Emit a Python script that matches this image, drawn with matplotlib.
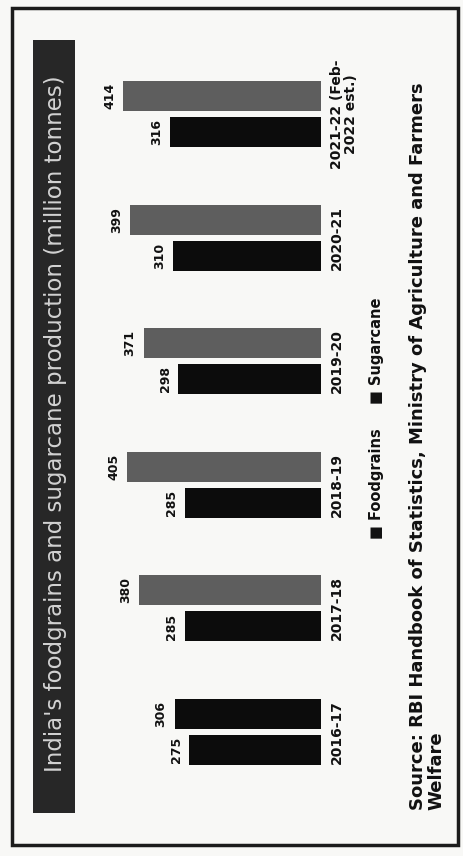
import matplotlib
matplotlib.use("Agg")
import matplotlib.pyplot as plt
import matplotlib.transforms as mtransforms
from matplotlib.patches import Rectangle

# ---- data ----
years = ["2016-17", "2017-18", "2018-19", "2019-20", "2020-21", "2021-22 (Feb-\n2022 est.)"]
foodgrains = [275, 285, 285, 298, 310, 316]
sugarcane = [306, 380, 405, 371, 399, 414]
series_names = ["Foodgrains", "Sugarcane"]
title = "India's foodgrains and sugarcane production (million tonnes)"
source = "Source: RBI Handbook of Statistics, Ministry of Agriculture and Farmers\nWelfare"

# ---- style ----
W, H = 463, 856
bg = "#f8f8f6"
food_color = "#0c0c0c"
sugar_color = "#5e5e5e"
sugar_colors = [food_color] + [sugar_color] * (len(sugarcane) - 1)

fig = plt.figure(figsize=(W / 100, H / 100), dpi=100, facecolor=bg)

def fx(px):
    return px / W

def fy(py):
    return 1 - py / H

# page frame
fig.add_artist(Rectangle((fx(12), fy(845)), fx(446), (845 - 8) / H,
                         transform=fig.transFigure, fill=False,
                         edgecolor="#1c1c1c", linewidth=2.5))

# title band (rotated chart title)
fig.add_artist(Rectangle((fx(33), fy(813)), fx(42), (813 - 40) / H,
                         transform=fig.transFigure, facecolor="#272727",
                         edgecolor="none"))
fig.text(fx(56), fy(424), title, rotation=90, ha="center", va="center",
         color="#d2d2d2", fontsize=16.5)

# bar axes (chart rotated 90 degrees: values run leftwards)
ax = fig.add_axes([fx(100), fy(800), fx(221), (800 - 60) / H])
ax.set_facecolor("none")
n = len(years)
pos = list(range(n))
off = 0.146
h = 0.243
fb = ax.barh([p - off for p in pos], foodgrains, height=h, color=food_color)
sb = ax.barh([p + off for p in pos], sugarcane, height=h, color=sugar_colors)
ax.set_xlim(462, 0)
ax.set_ylim(-0.550, 5.437)
ax.axis("off")

for bars, vals in ((fb, foodgrains), (sb, sugarcane)):
    for b, v in zip(bars, vals):
        ax.annotate(str(v), (b.get_width(), b.get_y() + b.get_height() / 2),
                    xytext=(-5, 0), textcoords="offset points", rotation=90,
                    ha="right", va="center", fontsize=9, fontweight="bold",
                    color="#111111")

trans = mtransforms.blended_transform_factory(ax.transAxes, ax.transData)
for p, lab in zip(pos, years):
    ax.text(1.04, p, lab, transform=trans, rotation=90, ha="left", va="center",
            fontsize=10, fontweight="bold", color="#111111",
            multialignment="center", linespacing=1.0)

# legend (rotated)
fig.text(fx(376), fy(539), "\u25a0 " + series_names[0], rotation=90,
         ha="center", va="bottom", fontsize=10.5, fontweight="bold", color="#111111")
fig.text(fx(376), fy(404), "\u25a0 " + series_names[1], rotation=90,
         ha="center", va="bottom", fontsize=10.5, fontweight="bold", color="#111111")

# source
fig.text(fx(409), fy(810), source, rotation=90, ha="left", va="bottom",
         fontsize=13, fontweight="bold", color="#111111",
         multialignment="left", linespacing=1.0)

fig.savefig("out.png", dpi=100, facecolor=bg)
